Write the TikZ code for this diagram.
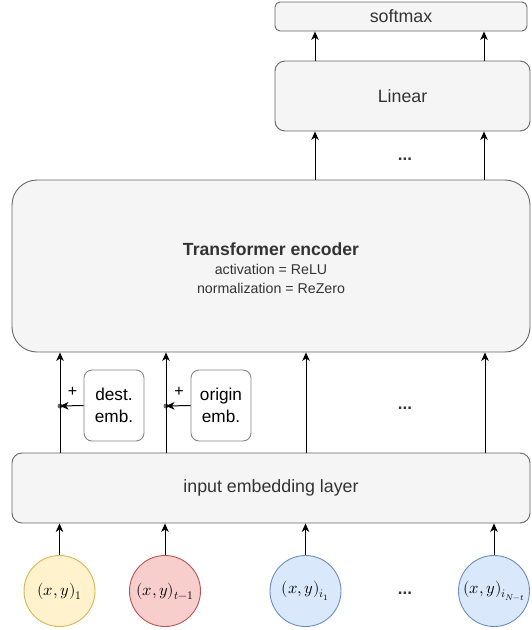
\documentclass[tikz,border=0pt]{standalone}
\usepackage{fontspec}
\setmainfont{Liberation Sans}
\usepackage{unicode-math}
\setmathfont{Latin Modern Math}
\usetikzlibrary{arrows.meta}
\definecolor{boxfill}{HTML}{F5F5F5}
\definecolor{boxline}{HTML}{666666}
\definecolor{boxtext}{HTML}{333333}
\definecolor{yfill}{HTML}{FFF2CC}
\definecolor{yline}{HTML}{D6B656}
\definecolor{rfill}{HTML}{F8CECC}
\definecolor{rline}{HTML}{B85450}
\definecolor{bfill}{HTML}{DAE8FC}
\definecolor{bline}{HTML}{6C8EBF}
\tikzset{
  box/.style={draw=boxline,fill=boxfill,text=boxtext,line width=0.9pt,inner sep=0pt,align=center,font=\fontsize{17.8}{21}\selectfont},
  embbox/.style={box,draw=boxline!80,fill=white,rounded corners=8pt,minimum width=60pt,minimum height=71pt,text=black,font=\fontsize{17.2}{22}\selectfont},
  inp/.style={circle,minimum size=71pt,inner sep=0pt,line width=0.9pt,font=\fontsize{16.5}{18}\selectfont},
  arr/.style={line width=1pt,-{Stealth[length=8.5pt,width=7.5pt,inset=2.5pt]}},
  jdot/.style={circle,fill=boxline,inner sep=0pt,minimum size=5pt},
  dots/.style={font=\bfseries\fontsize{17}{19}\selectfont,text=boxtext},
  plus/.style={font=\fontsize{16}{18}\selectfont}
}
\begin{document}
\begin{tikzpicture}[x=1pt,y=-1pt]
\useasboundingbox (0,0) rectangle (531,630);
% boxes
\node[box,rounded corners=5pt,minimum width=252pt,minimum height=29pt] (soft) at (401,16.5) {softmax};
\node[box,rounded corners=10pt,minimum width=255pt,minimum height=70pt] (lin) at (402.5,96) {Linear};
\node[box,rounded corners=25pt,minimum width=518pt,minimum height=172pt] (tf) at (271,266) {};
\node[text=boxtext,align=center,font=\fontsize{14.2}{19}\selectfont] (tft) at (271,268)
  {{\bfseries\fontsize{17.6}{19}\selectfont Transformer encoder}\\activation = ReLU\\normalization = ReZero};
\node[box,rounded corners=10pt,minimum width=518pt,minimum height=70pt] (emb) at (271,488) {input embedding layer};
\node[embbox] (dest) at (114,405.5) {dest.\\emb.};
\node[embbox] (orig) at (221,405.5) {origin\\emb.};
% inputs
\node[inp,draw=yline,fill=yfill] (c1) at (59.5,591) {$(x,y)_1$};
\node[inp,draw=rline,fill=rfill] (c2) at (165,591) {$(x,y)_{t-1}$};
\node[inp,draw=bline,fill=bfill] (c3) at (305.5,591) {$(x,y)_{i_1}$};
\node[inp,draw=bline,fill=bfill] (c4) at (494,591) {$(x,y)_{i_{N-t}}$};
% dots
\node[dots] (e1) at (405,159) {...};
\node[dots] (e2) at (405,408) {...};
\node[dots] (e3) at (405,593) {...};
% column coordinates
\coordinate (xa) at (60,0);
\coordinate (xb) at (166,0);
\coordinate (xc) at (306,0);
\coordinate (xd) at (485,0);
\coordinate (xe) at (315,0);
\coordinate (xf) at (484,0);
% junction dots
\node[jdot] (j1) at (60,406) {};
\node[jdot] (j2) at (166,406) {};
% arrows circles -> embedding
\draw[arr] (c1.north) -- (c1.north |- emb.south);
\draw[arr] (c2.north) -- (c2.north |- emb.south);
\draw[arr] (c3.north) -- (c3.north |- emb.south);
\draw[arr] (c4.north) -- (c4.north |- emb.south);
% embedding -> transformer
\draw[arr] (xa |- emb.north) -- (xa |- tf.south);
\draw[arr] (xb |- emb.north) -- (xb |- tf.south);
\draw[arr] (xc |- emb.north) -- (xc |- tf.south);
\draw[arr] (xd |- emb.north) -- (xd |- tf.south);
% emb boxes -> junctions
\draw[arr] (dest.west) -- (j1.center);
\draw[arr] (orig.west) -- (j2.center);
\node[plus] (p1) at (72.5,392) {+};
\node[plus] (p2) at (179,392) {+};
% transformer -> linear
\draw[arr] (xe |- tf.north) -- (xe |- lin.south);
\draw[arr] (xf |- tf.north) -- (xf |- lin.south);
% linear -> softmax
\draw[arr] (xe |- lin.north) -- (xe |- soft.south);
\draw[arr] (xf |- lin.north) -- (xf |- soft.south);
\end{tikzpicture}
\end{document}
